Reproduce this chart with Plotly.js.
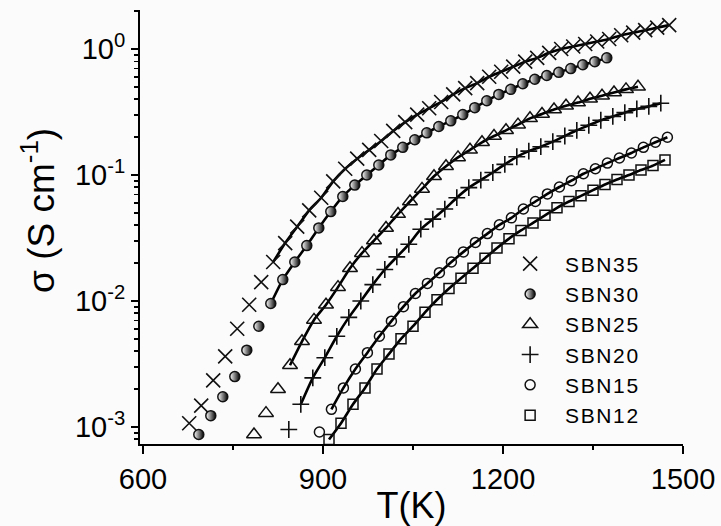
<!DOCTYPE html>
<html>
<head>
<meta charset="utf-8">
<script src="https://cdn.plot.ly/plotly-3.0.1.min.js"></script>
<style>
html,body{margin:0;padding:0;background:#fbfbfb;}
#chart{width:721px;height:526px;}
.legendtext{letter-spacing:1.6px;}
</style>
</head>
<body>
<div id="chart"></div>
<script>
// ---- data (T in K, log10 of sigma in S/cm) ----
const seriesNames = ['SBN35','SBN30','SBN25','SBN20','SBN15','SBN12'];

const T_SBN35 = [677,697,717,737,757,777,797,817,837,857,877,897,917,937,957,977,997,1017,1037,1057,1077,1097,1117,1137,1157,1177,1197,1217,1237,1257,1277,1297,1317,1337,1357,1377,1397,1417,1437,1457,1477];
const logS_SBN35 = [-2.97,-2.83,-2.63,-2.44,-2.22,-2.03,-1.85,-1.69,-1.54,-1.41,-1.28,-1.18,-1.05,-0.95,-0.87,-0.80,-0.73,-0.65,-0.58,-0.52,-0.47,-0.42,-0.36,-0.31,-0.27,-0.22,-0.18,-0.14,-0.10,-0.07,-0.03,0.00,0.02,0.04,0.06,0.08,0.11,0.13,0.15,0.17,0.19];

const T_SBN30 = [693,713,733,753,773,793,813,833,853,873,893,913,933,953,973,993,1013,1033,1053,1073,1093,1113,1133,1153,1173,1193,1213,1233,1253,1273,1293,1313,1333,1353,1373];
const logS_SBN30 = [-3.06,-2.91,-2.76,-2.60,-2.39,-2.20,-2.02,-1.83,-1.69,-1.56,-1.42,-1.29,-1.17,-1.08,-1.00,-0.92,-0.84,-0.78,-0.72,-0.665,-0.615,-0.57,-0.52,-0.465,-0.41,-0.36,-0.32,-0.275,-0.24,-0.21,-0.185,-0.155,-0.125,-0.10,-0.07];

const T_SBN25 = [785,805,825,845,865,885,905,925,945,965,985,1005,1025,1045,1065,1085,1105,1125,1145,1165,1185,1205,1225,1245,1265,1285,1305,1325,1345,1365,1385,1405,1425];
const logS_SBN25 = [-3.06,-2.89,-2.70,-2.51,-2.32,-2.15,-2.03,-1.89,-1.74,-1.62,-1.52,-1.42,-1.31,-1.21,-1.11,-1.01,-0.93,-0.86,-0.80,-0.74,-0.69,-0.645,-0.60,-0.55,-0.515,-0.48,-0.45,-0.425,-0.395,-0.37,-0.345,-0.32,-0.30];

const T_SBN20 = [843,863,883,903,923,943,963,983,1003,1023,1043,1063,1083,1103,1123,1143,1163,1183,1203,1223,1243,1263,1283,1303,1323,1343,1363,1383,1403,1423,1443,1463];
const logS_SBN20 = [-3.02,-2.82,-2.61,-2.45,-2.28,-2.13,-2.00,-1.87,-1.75,-1.65,-1.55,-1.43,-1.35,-1.27,-1.18,-1.10,-1.04,-0.98,-0.915,-0.855,-0.81,-0.775,-0.735,-0.69,-0.645,-0.605,-0.565,-0.535,-0.505,-0.475,-0.455,-0.43];

const T_SBN15 = [894,914,934,954,974,994,1014,1034,1054,1074,1094,1114,1134,1154,1174,1194,1214,1234,1254,1274,1294,1314,1334,1354,1374,1394,1414,1434,1454,1474];
const logS_SBN15 = [-3.04,-2.86,-2.69,-2.54,-2.41,-2.28,-2.16,-2.045,-1.94,-1.86,-1.775,-1.69,-1.61,-1.535,-1.465,-1.395,-1.34,-1.27,-1.21,-1.15,-1.095,-1.045,-0.99,-0.95,-0.905,-0.865,-0.825,-0.78,-0.74,-0.70];

const T_SBN12 = [910,930,950,970,990,1010,1030,1050,1070,1090,1110,1130,1150,1170,1190,1210,1230,1250,1270,1290,1310,1330,1350,1370,1390,1410,1430,1450,1470];
const logS_SBN12 = [-3.10,-2.97,-2.82,-2.69,-2.54,-2.42,-2.30,-2.20,-2.09,-1.99,-1.90,-1.82,-1.74,-1.66,-1.58,-1.505,-1.44,-1.38,-1.32,-1.26,-1.21,-1.165,-1.12,-1.075,-1.035,-1.00,-0.96,-0.925,-0.88];

// index of the first point covered by the fitted curve
const fitStart = [7, 6, 3, 1, 1, 0];

const xTickVals = [600, 900, 1200, 1500];
const xTickText = ['600', '900', '1200', '1500'];
const xMinorVals = [750, 1050, 1350];
const yTickVals = [1e-3, 1e-2, 1e-1, 1];
const yTickText = ['10<sup>-3</sup>', '10<sup>-2</sup>', '10<sup>-1</sup>', '10<sup>0</sup>'];
const xTitle = 'T(K)';
const yTitle = 'σ (S cm<sup>-1</sup>)';

// ---- build traces ----
const Ts = [T_SBN35, T_SBN30, T_SBN25, T_SBN20, T_SBN15, T_SBN12];
const Ls = [logS_SBN35, logS_SBN30, logS_SBN25, logS_SBN20, logS_SBN15, logS_SBN12];
const markerStyles = [
  {symbol: 'x-thin-open', size: 14, color: '#111', line: {width: 1.6, color: '#111'}},
  {symbol: 'circle', size: 10, color: '#ffffff', gradient: {type: 'horizontal', color: '#000'}, line: {width: 1.5, color: '#111'}},
  {symbol: 'triangle-up-open', size: 13, color: '#111', line: {width: 1.5}},
  {symbol: 'cross-thin-open', size: 12, color: '#111', line: {width: 1.6, color: '#111'}},
  {symbol: 'circle-open', size: 10, color: '#111', line: {width: 1.5}},
  {symbol: 'square-open', size: 10, color: '#111', line: {width: 1.5}}
];

const traces = [];
// fitted curves first (underneath the markers)
for (let i = 0; i < seriesNames.length; i++) {
  const xs = Ts[i].slice(fitStart[i]);
  const ys = Ls[i].slice(fitStart[i]).map(v => Math.pow(10, v));
  traces.push({x: xs, y: ys, type: 'scatter', mode: 'lines', line: {color: '#000', width: 2.6, shape: 'spline', smoothing: 0.6}, showlegend: false, hoverinfo: 'skip'});
}
for (let i = 0; i < seriesNames.length; i++) {
  traces.push({
    x: Ts[i], y: Ls[i].map(v => Math.pow(10, v)),
    type: 'scatter', mode: 'markers', name: seriesNames[i],
    marker: markerStyles[i]
  });
}

// minor log ticks 2..9 per decade
const yMinor = [];
for (let e = -4; e <= 0; e++) for (let m = 2; m <= 9; m++) yMinor.push(m * Math.pow(10, e));

const font = 'Arial, "Liberation Sans", Helvetica, sans-serif';
const layout = {
  width: 721, height: 526,
  margin: {l: 140, r: 38, t: 10, b: 82},
  paper_bgcolor: '#fbfbfb', plot_bgcolor: '#fbfbfb',
  font: {family: font, color: '#000'},
  showlegend: true,
  legend: {x: 0.654, xanchor: 'left', y: 0.462, yanchor: 'top', bgcolor: 'rgba(0,0,0,0)',
           font: {size: 21, family: font}, itemwidth: 60, tracegroupgap: 0},
  xaxis: {
    range: [595, 1500], showgrid: false, zeroline: false,
    showline: true, linecolor: '#000', linewidth: 2,
    ticks: 'outside', ticklen: 8, tickwidth: 2, tickcolor: '#000',
    tickmode: 'array', tickvals: xTickVals, ticktext: xTickText,
    tickfont: {size: 29, family: font},
    minor: {tickmode: 'array', tickvals: xMinorVals, ticks: 'outside', ticklen: 4, tickwidth: 1.5, tickcolor: '#000'},
    title: {text: xTitle, font: {size: 36, family: font}, standoff: 4}
  },
  yaxis: {
    type: 'log', range: [-3.135, 0.31], showgrid: false, zeroline: false,
    showline: true, linecolor: '#000', linewidth: 2,
    ticks: 'outside', ticklen: 7, tickwidth: 2, tickcolor: '#000',
    tickmode: 'array', tickvals: yTickVals, ticktext: yTickText,
    tickfont: {size: 29, family: font},
    minor: {tickmode: 'array', tickvals: yMinor, ticks: 'outside', ticklen: 4, tickwidth: 1.5, tickcolor: '#000'}
  },
  annotations: [{
    text: yTitle, xref: 'paper', yref: 'paper', x: -0.186, y: 0.537,
    xanchor: 'center', yanchor: 'middle', textangle: -90, showarrow: false,
    font: {size: 37, family: font, color: '#000'}
  }]
};

Plotly.newPlot('chart', traces, layout, {displayModeBar: false, staticPlot: true});
</script>
</body>
</html>
